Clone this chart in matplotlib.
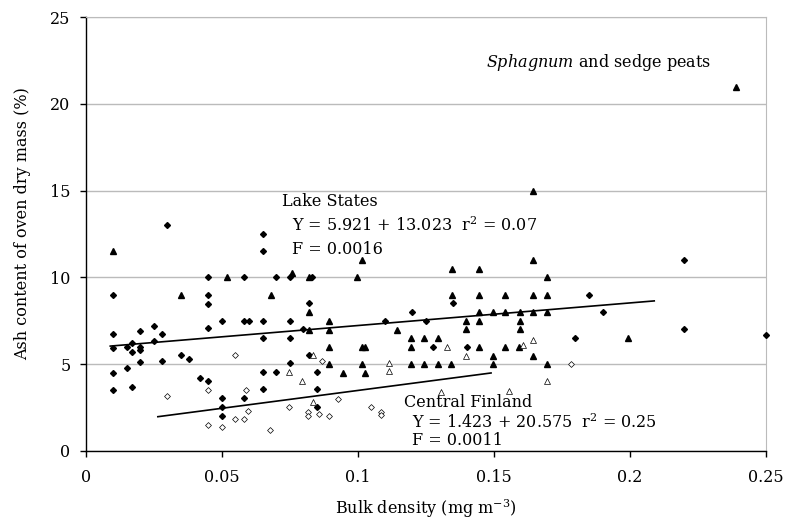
import numpy as np
import matplotlib.pyplot as plt

plt.rcParams['font.family'] = ['DejaVu Serif']
plt.rcParams['mathtext.fontset'] = 'dejavuserif'

# Lake States, filled diamonds
fd_x = [0.010, 0.010, 0.010, 0.010, 0.010, 0.015, 0.017, 0.017, 0.015, 0.017,
        0.020, 0.020, 0.020, 0.020, 0.025, 0.025, 0.028, 0.028, 0.030, 0.035,
        0.038, 0.042, 0.045, 0.045, 0.045, 0.045, 0.045, 0.050, 0.050, 0.050,
        0.050, 0.058, 0.058, 0.060, 0.058, 0.065, 0.065, 0.070, 0.075, 0.083,
        0.082, 0.065, 0.075, 0.065, 0.075, 0.080, 0.082, 0.075, 0.065, 0.070,
        0.085, 0.065, 0.085, 0.085, 0.110, 0.120, 0.125, 0.135, 0.1275, 0.140,
        0.180, 0.185, 0.220, 0.190, 0.220, 0.250]
fd_y = [9.0, 6.72, 5.9, 4.5, 3.52, 6.0, 6.21, 5.71, 4.79, 3.69,
        6.9, 6.0, 5.79, 5.1, 7.21, 6.31, 6.72, 5.19, 13.0, 5.5,
        5.31, 4.21, 4.02, 10.0, 9.0, 8.48, 7.1, 7.5, 3.02, 2.52,
        2.02, 10.0, 7.5, 7.5, 3.02, 12.5, 11.5, 10.0, 10.0, 10.0,
        8.5, 7.5, 7.5, 6.48, 6.48, 7.0, 5.52, 5.04, 4.52, 4.52,
        4.52, 3.54, 3.54, 2.54, 7.5, 8.0, 7.5, 8.5, 6.0, 6.0,
        6.5, 9.0, 11.0, 8.0, 7.0, 6.7]

# Lake States, filled triangles
ft_x = [0.010, 0.035, 0.052, 0.068, 0.0758, 0.082, 0.0997, 0.1017,
        0.082, 0.082, 0.0896, 0.0896, 0.0896, 0.0896, 0.0947, 0.1017, 0.1028,
        0.1017, 0.1028, 0.1146, 0.1197, 0.1197, 0.1245, 0.1294, 0.1197, 0.1245,
        0.1294, 0.1343, 0.1645, 0.1645, 0.1346, 0.1446, 0.1694, 0.1346, 0.1446,
        0.1543, 0.1645, 0.1694, 0.1446, 0.1496, 0.1543, 0.1595, 0.1645, 0.1694,
        0.1397, 0.1446, 0.1595, 0.1397, 0.1595, 0.1446, 0.1543, 0.1594, 0.1496,
        0.1645, 0.1496, 0.1694, 0.2392, 0.1993]
ft_y = [11.5, 9.0, 10.0, 9.0, 10.25, 10.0, 10.0, 11.0,
        7.98, 6.96, 7.5, 6.96, 5.96, 4.98, 4.5, 5.96, 5.96,
        4.98, 4.5, 6.96, 6.48, 5.98, 6.48, 6.48, 4.98, 4.98,
        4.98, 4.98, 15.0, 11.0, 10.5, 10.5, 10.0, 9.0, 9.0,
        9.0, 9.0, 9.0, 7.98, 7.98, 7.98, 7.98, 7.98, 7.98,
        7.5, 7.5, 7.5, 7.0, 7.0, 6.0, 6.0, 6.0, 5.48,
        5.48, 4.98, 4.98, 21.0, 6.48]

# Central Finland, open diamonds
od_x = [0.030, 0.045, 0.045, 0.050, 0.0548, 0.0548, 0.058, 0.0589, 0.0598,
        0.0679, 0.0747, 0.0818, 0.0818, 0.0858, 0.0867, 0.0896, 0.0928,
        0.1047, 0.1087, 0.1087, 0.1784]
od_y = [3.18, 3.5, 1.5, 1.39, 5.5, 1.81, 1.81, 3.5, 2.31,
        1.19, 2.5, 2.25, 2.02, 2.12, 5.19, 2.0, 3.0,
        2.5, 2.22, 2.08, 4.98]

# Central Finland, open triangles
ot_x = [0.0836, 0.0747, 0.0796, 0.0836, 0.1116, 0.1116, 0.1327, 0.1397,
        0.1607, 0.1645, 0.1694, 0.1306, 0.1555]
ot_y = [5.52, 4.52, 4.02, 2.83, 5.04, 4.6, 5.98, 5.48,
        6.12, 6.39, 4.02, 3.38, 3.46]

# regression fits: intercept, slope, x range
ls_fit = (5.921, 13.023, 0.009, 0.209)
cf_fit = (1.423, 20.575, 0.0265, 0.149)

fig = plt.figure(figsize=(7.87, 5.2), dpi=100)
ax = fig.add_axes([0.109, 0.133, 0.864, 0.834])

ax.set_xlim(0, 0.25)
ax.set_ylim(0, 25)
ax.set_xticks([0, 0.05, 0.1, 0.15, 0.2, 0.25])
ax.set_xticklabels(['0', '0.05', '0.1', '0.15', '0.2', '0.25'])
ax.set_yticks([0, 5, 10, 15, 20, 25])
ax.yaxis.grid(True, color='#bbbbbb', linewidth=1.0)
ax.set_axisbelow(True)
ax.tick_params(labelsize=11.5, length=4, width=1, direction='out')
ax.tick_params(axis='x', pad=9)
ax.tick_params(axis='y', pad=7)
ax.spines['top'].set_color('#bbbbbb')
ax.spines['right'].set_color('#bbbbbb')
ax.spines['left'].set_linewidth(1.0)
ax.spines['bottom'].set_linewidth(1.0)

for a, b, x0, x1 in (ls_fit, cf_fit):
    xs = np.array([x0, x1])
    ax.plot(xs, a + b * xs, color='black', linewidth=1.2, zorder=2)

ax.plot(fd_x, fd_y, 'D', ms=3.0, color='black', zorder=3, clip_on=False)
ax.plot(ft_x, ft_y, '^', ms=4.8, color='black', zorder=3)
ax.plot(od_x, od_y, 'D', ms=3.0, mfc='white', mec='black', mew=0.5, zorder=3)
ax.plot(ot_x, ot_y, '^', ms=4.6, mfc='white', mec='black', mew=0.5, zorder=3)

ax.set_xlabel('Bulk density (mg m$^{-3}$)', fontsize=11.5, labelpad=8)
ax.set_ylabel('Ash content of oven dry mass (%)', fontsize=11.5)
ax.yaxis.set_label_coords(-0.08, 0.525)

tk = dict(fontsize=11.5, va='center', ha='left')
ax.text(0.072, 14.4, 'Lake States', **tk)
ax.text(0.076, 13.0, 'Y = 5.921 + 13.023  r$^2$ = 0.07', **tk)
ax.text(0.076, 11.6, 'F = 0.0016', **tk)
ax.text(0.117, 2.8, 'Central Finland', **tk)
ax.text(0.120, 1.6, 'Y = 1.423 + 20.575  r$^2$ = 0.25', **tk)
ax.text(0.120, 0.6, 'F = 0.0011', **tk)
ax.text(0.147, 22.4, '$\\it{Sphagnum}$ and sedge peats', **tk)

fig.savefig('out.png', dpi=100)
